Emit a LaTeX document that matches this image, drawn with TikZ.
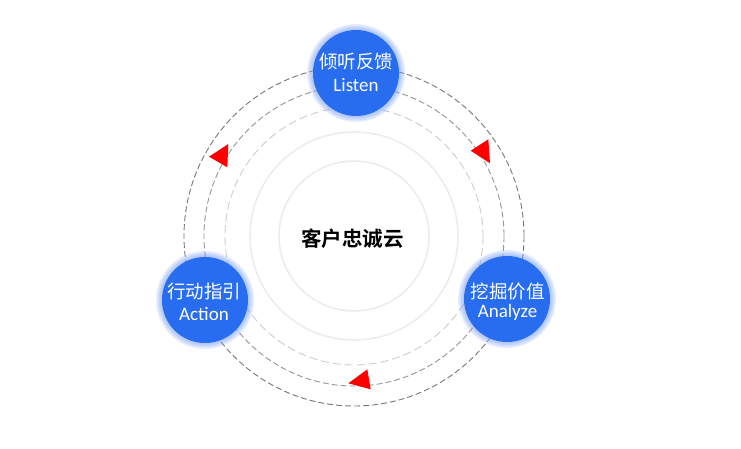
\documentclass[tikz,border=0pt]{standalone}
\usepackage{fontspec}
\setmainfont{Carlito}
\newfontfamily\cjk{Noto Sans CJK SC}[BoldFont={Noto Sans CJK SC Bold}]
\definecolor{nodeblue}{RGB}{40,108,240}
\definecolor{glowblue}{RGB}{120,160,250}
\definecolor{ringA}{RGB}{120,120,120}
\definecolor{ringB}{RGB}{150,150,150}
\definecolor{ringC}{RGB}{205,205,205}
\definecolor{ringD}{RGB}{236,236,236}
\tikzset{
  x=1pt, y=-1pt,
  outerring/.style={draw=ringA, line width=0.9pt, dash pattern=on 6pt off 3pt},
  midring/.style={draw=ringB, line width=0.9pt, dash pattern=on 6pt off 3pt},
  lightring/.style={draw=ringC, line width=0.9pt, dash pattern=on 8pt off 4pt},
  solidring/.style={draw=ringD, line width=1.5pt},
  bluenode/.style={circle, fill=nodeblue, minimum size=86pt, inner sep=0pt, text=white, align=center},
  glow/.style={fill=glowblue, fill opacity=0.18},
  arrowtri/.style={fill=red},
  zhlabel/.style={text=white, font=\cjk\fontsize{18.5}{20}\selectfont},
  enlabel/.style={text=white, font=\fontsize{19}{21}\selectfont},
}
\begin{document}
\begin{tikzpicture}
\useasboundingbox (0,0) rectangle (741,449);
\fill[white] (0,0) rectangle (741,449);
\coordinate (c) at (354,236);
% rings
\draw[solidring] (c) circle[radius=75];
\draw[solidring] (c) circle[radius=104];
\draw[lightring] (c) circle[radius=129];
\draw[midring] (c) circle[radius=150];
\draw[outerring] (c) circle[radius=170];
% arrows
\fill[arrowtri] (209,156.7) -- (228.3,144) -- (227.3,167.3) -- cycle;
\fill[arrowtri] (470.7,150.7) -- (488.3,139.3) -- (490,163.3) -- cycle;
\fill[arrowtri] (348.3,383.3) -- (367.3,369.3) -- (370.7,389.3) -- cycle;
% glows
\foreach \p in {(356,73),(205,300),(507,299)}{
  \foreach \r in {49,47.5,46,44.5}{
    \fill[glow] \p circle[radius=\r];
  }
}
% nodes
\node[bluenode] (listen) at (356,73) {};
\node[bluenode] (action) at (205,300) {};
\node[bluenode] (analyze) at (507,299) {};
\node[zhlabel] (listenzh) at (356,61.5) {倾听反馈};
\node[enlabel] (listenen) at (356,85) {Listen};
\node[zhlabel] (actionzh) at (204,291) {行动指引};
\node[enlabel] (actionen) at (204,314) {Action};
\node[zhlabel] (analyzezh) at (507.5,291) {挖掘价值};
\node[enlabel] (analyzeen) at (507.5,312.5) {Analyze};
\node[font=\cjk\bfseries\fontsize{20.5}{22}\selectfont] (core) at (352.7,238.3) {客户忠诚云};
\end{tikzpicture}
\end{document}
